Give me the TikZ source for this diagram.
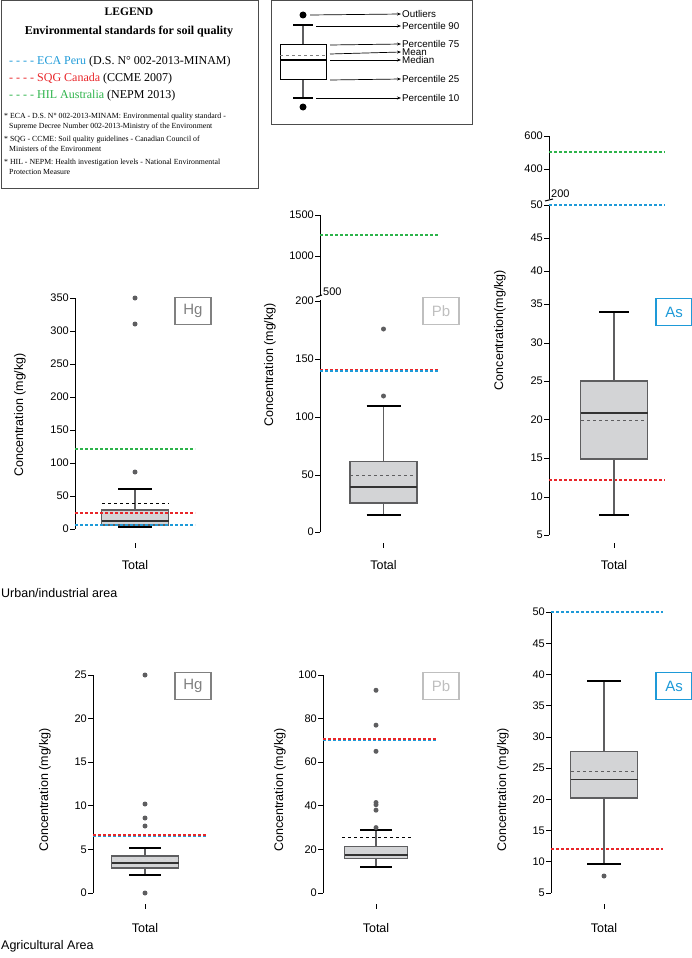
\documentclass[tikz,border=0pt]{standalone}
\usepackage{fontspec}
\setmainfont{Liberation Serif}
\setsansfont{Liberation Sans}
\usetikzlibrary{arrows.meta}
\definecolor{cblue}{HTML}{1E9AD8}
\definecolor{cred}{HTML}{E8262A}
\definecolor{cgreen}{HTML}{2DB34A}
\definecolor{bfill}{HTML}{D3D4D6}
\definecolor{bedge}{HTML}{5E5E60}
\tikzset{
  ax/.style={line width=1pt,black},
  tk/.style={font=\sffamily\fontsize{11}{11}\selectfont,anchor=east,inner sep=1pt},
  ylab/.style={font=\sffamily\fontsize{12.5}{12}\selectfont,rotate=90},
  xlab/.style={font=\sffamily\fontsize{12.5}{12}\selectfont},
  std/.style={dash pattern=on 3pt off 2pt,line width=1.1pt},
  el/.style={draw,line width=1.3pt,font=\sffamily\fontsize{15}{15}\selectfont,inner sep=2pt,minimum width=36pt,minimum height=27pt},
  outl/.style={fill=bedge,draw=none},
  arr/.style={-{Stealth[length=4pt]},line width=0.7pt},
  klab/.style={font=\sffamily\fontsize{9.8}{9.8}\selectfont,anchor=west,inner sep=1pt},
}
% \bp{cx}{halfw}{capw}{wtop}{q3}{med}{q1}{wbot}
\newcommand{\bp}[8]{%
  \draw[bedge,line width=1.2pt] (#1,#4)--(#1,#8);
  \draw[bedge,line width=1.2pt,fill=bfill] ({#1-#2},#5) rectangle ({#1+#2},#7);
  \draw[black!80,line width=1.8pt] ({#1-#2},#6)--({#1+#2},#6);
  \draw[black,line width=1.6pt] ({#1-#3},#4)--({#1+#3},#4);
  \draw[black,line width=1.6pt] ({#1-#3},#8)--({#1+#3},#8);
}
\newcommand{\ticks}[2]{% axisx, list of y/label
  \foreach \yy/\ll in {#2} {\draw[ax] (#1-5,\yy)--(#1,\yy); \node[tk] at (#1-5,\yy) {\ll};}}
\begin{document}
\begin{tikzpicture}[x=1pt,y=-1pt]
\useasboundingbox (0,0) rectangle (692,958);
% ---------- legend
\node[draw=black!70,line width=0.8pt,minimum width=257pt,minimum height=187pt,anchor=north west,inner sep=0] (leg) at (0.5,0.5) {};
\node[font=\bfseries\fontsize{11.5}{11}\selectfont] (lt) at (129,12) {LEGEND};
\node[font=\bfseries\fontsize{12}{12}\selectfont] (ls) at (129,32) {Environmental standards for soil quality};
\node[anchor=west,font=\fontsize{12}{12}\selectfont,inner sep=0] (l1) at (9,62) {\textcolor{cblue}{- - - - ECA Peru} (D.S. N° 002-2013-MINAM)};
\node[anchor=west,font=\fontsize{12}{12}\selectfont,inner sep=0] (l2) at (9,79) {\textcolor{cred}{- - - - SQG Canada} (CCME 2007)};
\node[anchor=west,font=\fontsize{12}{12}\selectfont,inner sep=0] (l3) at (9,96) {\textcolor{cgreen}{- - - - HIL Australia} (NEPM 2013)};
\tikzset{fn/.style={anchor=north west,font=\fontsize{7.8}{10}\selectfont,align=left,inner sep=0}}
\node[fn] (f1) at (4,113) {*\ ECA - D.S. N° 002-2013-MINAM: Environmental quality standard -\\\hspace*{5pt}Supreme Decree Number 002-2013-Ministry of the Environment};
\node[fn] (f2) at (4,136) {*\ SQG - CCME: Soil quality guidelines - Canadian Council of\\\hspace*{5pt}Ministers of the Environment};
\node[fn] (f3) at (4,159) {*\ HIL - NEPM: Health investigation levels - National Environmental\\\hspace*{5pt}Protection Measure};
% ---------- key box
\node[draw=black!70,line width=0.8pt,minimum width=201pt,minimum height=123pt,anchor=north west,inner sep=0] (key) at (270.5,0.5) {};
\draw[bedge,line width=1.2pt] (303,25)--(303,98);
\draw[black,line width=1pt,fill=white] (280,45) rectangle (326,79);
\draw[gray,dashed,line width=0.8pt] (280,55)--(326,55);
\draw[black,line width=1.8pt] (280,60)--(326,60);
\draw[black,line width=1.4pt] (293,25)--(313,25) (293,98)--(313,98);
\fill (303,15) circle (3.5pt) (303,107) circle (3.5pt);
\node[klab] (k1) at (401,14) {Outliers};
\node[klab] (k2) at (401,26) {Percentile 90};
\node[klab] (k3) at (401,44) {Percentile 75};
\node[klab] (k4) at (401,52) {Mean};
\node[klab] (k5) at (401,60) {Median};
\node[klab] (k6) at (401,79) {Percentile 25};
\node[klab] (k7) at (401,98) {Percentile 10};
\coordinate (c1) at (310,15); \coordinate (c2) at (316,26); \coordinate (c3) at (330,45);
\coordinate (c4) at (330,54); \coordinate (c5) at (330,60); \coordinate (c6) at (330,80); \coordinate (c7) at (316,98);
\foreach \i in {1,...,7} \draw[arr] (c\i) -- (k\i.west);
% ---------- top Hg
\draw[ax] (75,298)--(75,529);
\ticks{75}{529/0,496/50,463/100,430/150,397/200,364/250,331/300,298/350}
\draw[std,draw=cgreen] (75,449)--(195,449);
\bp{135}{33.5}{17}{489}{510}{521}{525}{527}
\draw[black,dashed,line width=0.9pt] (102,503)--(169,503);
\draw[std,draw=cred] (75,513)--(195,513);
\draw[std,draw=cblue] (75,525)--(195,525);
\fill[outl] (135,298) circle (2.5pt) (135,324) circle (2.5pt) (135,472) circle (2.5pt);
\node[el,draw=gray,text=gray] (hg1) at (193,311) {Hg};
\node[ylab] (y1) at (20,415) {Concentration (mg/kg)};
\draw[line width=0.8pt] (135,543)--(135,548);
\node[xlab] (x1) at (135,565) {Total};
\node[anchor=west,font=\sffamily\fontsize{12.5}{12}\selectfont,inner sep=0] (ua) at (1,593) {Urban/industrial area};
% ---------- top Pb
\draw[ax] (320,215)--(320,296) (320,300)--(320,532);
\ticks{320}{532/0,475/50,417/100,359/150,301/200,256/1000,215/1500}
\draw[ax] (316,297)--(322,295);
\node[anchor=west,font=\sffamily\fontsize{11}{11}\selectfont,inner sep=1pt] (p500) at (322,292) {500};
\draw[std,draw=cgreen] (320,235)--(438,235);
\draw[std,draw=cred] (320,369.5)--(438,369.5);
\draw[std,draw=cblue] (320,371)--(438,371);
\bp{383.5}{33.5}{17}{406}{461.5}{487}{503}{514.7}
\draw[bedge,dashed,line width=1pt] (350,475.4)--(417,475.4);
\fill[outl] (383.5,329) circle (2.5pt) (383.5,396) circle (2.5pt);
\node[el,draw=black!25,text=black!25] (pb1) at (441,311) {Pb};
\node[ylab] (y2) at (270,365) {Concentration (mg/kg)};
\draw[line width=0.8pt] (383.5,543)--(383.5,548);
\node[xlab] (x2) at (383.5,565) {Total};
% ---------- top As
\draw[ax] (549,136)--(549,199) (549,204)--(549,535);
\ticks{549}{535/5,497/10,458/15,419.5/20,381/25,343/30,304/35,271/40,238/45,205/50,169/400,136/600}
\draw[ax] (545,201)--(553,199);
\node[anchor=west,font=\sffamily\fontsize{11}{11}\selectfont,inner sep=1pt] (a200) at (550,194) {200};
\draw[std,draw=cgreen] (549,152)--(665,152);
\draw[std,draw=cblue] (549,205)--(665,205);
\draw[std,draw=cred] (549,480)--(665,480);
\bp{614}{33.5}{15}{312}{381}{413}{459}{515}
\draw[bedge,dashed,line width=1pt] (581,420)--(647,420);
\node[el,draw=cblue,text=cblue] (as1) at (674,312) {As};
\node[ylab] (y3) at (500,330) {Concentration(mg/kg)};
\draw[line width=0.8pt] (614,543)--(614,548);
\node[xlab] (x3) at (614,565) {Total};
% ---------- bottom Hg
\draw[ax] (93,675)--(93,893);
\ticks{93}{893/0,849.4/5,805.8/10,762.2/15,718.6/20,675/25}
\bp{145}{33.5}{16}{848}{856}{863}{868}{875}
\draw[white!70!gray,dashed,line width=1pt] (112,859)--(178,859);
\draw[std,draw=cred] (93,835)--(207,835);
\draw[std,draw=cblue] (93,836.5)--(207,836.5);
\fill[outl] (145,675) circle (2.5pt) (145,804) circle (2.5pt) (145,818) circle (2.5pt) (145,826) circle (2.5pt) (145,893) circle (2.5pt);
\node[el,draw=gray,text=gray] (hg2) at (193,686) {Hg};
\node[ylab] (y4) at (45,790) {Concentration (mg/kg)};
\draw[line width=0.8pt] (145,904)--(145,909);
\node[xlab] (x4) at (145,928) {Total};
\node[anchor=west,font=\sffamily\fontsize{12.5}{12}\selectfont,inner sep=0] (aa) at (1,946) {Agricultural Area};
% ---------- bottom Pb
\draw[ax] (323,675)--(323,893);
\ticks{323}{893/0,849.4/20,805.8/40,762.2/60,718.6/80,675/100}
\draw[std,draw=cred] (323,739)--(437,739);
\draw[std,draw=cblue] (323,740.5)--(437,740.5);
\bp{376}{31.5}{16}{829.8}{846.1}{854.8}{858.1}{866.8}
\draw[black,dashed,line width=1pt] (342,837.4)--(411,837.4);
\foreach \v in {93,77,65,41.5,40.5,38,30} \fill[outl] (376,{893-2.18*\v}) circle (2.5pt);
\node[el,draw=black!25,text=black!25] (pb2) at (441,686) {Pb};
\node[ylab] (y5) at (280,790) {Concentration (mg/kg)};
\draw[line width=0.8pt] (376,904)--(376,909);
\node[xlab] (x5) at (376,928) {Total};
% ---------- bottom As
\draw[ax] (551,612)--(551,893);
\ticks{551}{893/5,861.8/10,830.6/15,799.4/20,768.2/25,737/30,705.8/35,674.6/40,643.4/45,612.2/50}
\draw[std,draw=cblue] (551,612)--(663,612);
\draw[std,draw=cred] (551,849)--(663,849);
\bp{604}{33.5}{17}{681}{751.4}{779.4}{798}{863.7}
\draw[bedge,dashed,line width=1pt] (571,771.3)--(638,771.3);
\fill[outl] (604,876) circle (2.5pt);
\node[el,draw=cblue,text=cblue] (as2) at (674,686) {As};
\node[ylab] (y6) at (503,790) {Concentration (mg/kg)};
\draw[line width=0.8pt] (604,904)--(604,909);
\node[xlab] (x6) at (604,928) {Total};
\end{tikzpicture}
\end{document}
